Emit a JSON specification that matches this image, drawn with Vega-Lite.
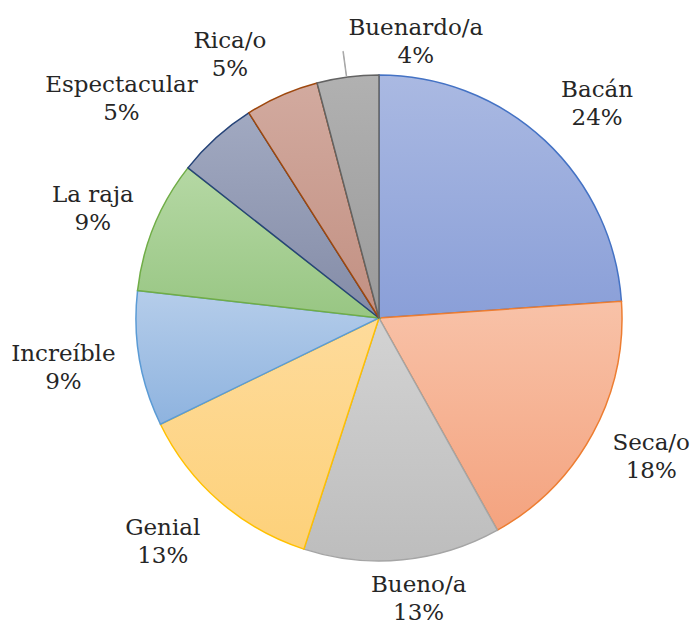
{
  "$schema": "https://vega.github.io/schema/vega-lite/v6.json",
  "width": 486,
  "height": 486,
  "autosize": "none",
  "padding": {"left": 136, "top": 75, "right": 71, "bottom": 60},
  "background": "white",
  "config": {"view": {"stroke": null}},
  "data": {
    "values": [
      {"i": 1, "name": "Bacán", "v": 23.9, "pct": "24%"},
      {"i": 2, "name": "Seca/o", "v": 18.0, "pct": "18%"},
      {"i": 3, "name": "Bueno/a", "v": 13.1, "pct": "13%"},
      {"i": 4, "name": "Genial", "v": 12.8, "pct": "13%"},
      {"i": 5, "name": "Increíble", "v": 9.0, "pct": "9%"},
      {"i": 6, "name": "La raja", "v": 8.8, "pct": "9%"},
      {"i": 7, "name": "Espectacular", "v": 5.4, "pct": "5%"},
      {"i": 8, "name": "Rica/o", "v": 4.9, "pct": "5%"},
      {"i": 9, "name": "Buenardo/a", "v": 4.1, "pct": "4%"}
    ]
  },
  "transform": [
    {"calculate": "datum.name + '\\n' + datum.pct", "as": "lab"},
    {"joinaggregate": [{"op": "sum", "field": "v", "as": "tot"}]},
    {"window": [{"op": "sum", "field": "v", "as": "cum"}], "sort": [{"field": "i"}], "frame": [null, 0]},
    {"calculate": "2*PI*(datum.cum - datum.v)/datum.tot", "as": "t0"},
    {"calculate": "2*PI*datum.cum/datum.tot", "as": "t1"}
  ],
  "encoding": {
    "theta": {"field": "v", "type": "quantitative", "stack": true},
    "order": {"field": "i", "type": "quantitative"}
  },
  "layer": [
    {"transform": [{"filter": "datum.name === 'Bacán'"}],
     "mark": {"type": "arc", "outerRadius": 243, "strokeWidth": 1.5, "stroke": "#4472c4",
       "fill": {"gradient": "linear", "x1": 0, "y1": 0, "x2": 0, "y2": 1, "stops": [{"offset": 0, "color": "#aab9e2"}, {"offset": 1, "color": "#8a9fd8"}]}},
     "encoding": {"theta": {"field": "t0", "type": "quantitative", "scale": null, "stack": null}, "theta2": {"field": "t1"}}},
    {"transform": [{"filter": "datum.name === 'Seca/o'"}],
     "mark": {"type": "arc", "outerRadius": 243, "strokeWidth": 1.5, "stroke": "#ed7d31",
       "fill": {"gradient": "linear", "x1": 0, "y1": 0, "x2": 0, "y2": 1, "stops": [{"offset": 0, "color": "#f8c2a8"}, {"offset": 1, "color": "#f4a37f"}]}},
     "encoding": {"theta": {"field": "t0", "type": "quantitative", "scale": null, "stack": null}, "theta2": {"field": "t1"}}},
    {"transform": [{"filter": "datum.name === 'Bueno/a'"}],
     "mark": {"type": "arc", "outerRadius": 243, "strokeWidth": 1.5, "stroke": "#a5a5a5",
       "fill": {"gradient": "linear", "x1": 0, "y1": 0, "x2": 0, "y2": 1, "stops": [{"offset": 0, "color": "#d3d3d3"}, {"offset": 1, "color": "#bdbdbd"}]}},
     "encoding": {"theta": {"field": "t0", "type": "quantitative", "scale": null, "stack": null}, "theta2": {"field": "t1"}}},
    {"transform": [{"filter": "datum.name === 'Genial'"}],
     "mark": {"type": "arc", "outerRadius": 243, "strokeWidth": 1.5, "stroke": "#ffc000",
       "fill": {"gradient": "linear", "x1": 0, "y1": 0, "x2": 0, "y2": 1, "stops": [{"offset": 0, "color": "#fedb9b"}, {"offset": 1, "color": "#fdd17a"}]}},
     "encoding": {"theta": {"field": "t0", "type": "quantitative", "scale": null, "stack": null}, "theta2": {"field": "t1"}}},
    {"transform": [{"filter": "datum.name === 'Increíble'"}],
     "mark": {"type": "arc", "outerRadius": 243, "strokeWidth": 1.5, "stroke": "#5b9bd5",
       "fill": {"gradient": "linear", "x1": 0, "y1": 0, "x2": 0, "y2": 1, "stops": [{"offset": 0, "color": "#b5cdea"}, {"offset": 1, "color": "#8eb3df"}]}},
     "encoding": {"theta": {"field": "t0", "type": "quantitative", "scale": null, "stack": null}, "theta2": {"field": "t1"}}},
    {"transform": [{"filter": "datum.name === 'La raja'"}],
     "mark": {"type": "arc", "outerRadius": 243, "strokeWidth": 1.5, "stroke": "#70ad47",
       "fill": {"gradient": "linear", "x1": 0, "y1": 0, "x2": 0, "y2": 1, "stops": [{"offset": 0, "color": "#b5d8a4"}, {"offset": 1, "color": "#98c683"}]}},
     "encoding": {"theta": {"field": "t0", "type": "quantitative", "scale": null, "stack": null}, "theta2": {"field": "t1"}}},
    {"transform": [{"filter": "datum.name === 'Espectacular'"}],
     "mark": {"type": "arc", "outerRadius": 243, "strokeWidth": 1.5, "stroke": "#264478",
       "fill": {"gradient": "linear", "x1": 0, "y1": 0, "x2": 0, "y2": 1, "stops": [{"offset": 0, "color": "#a1a9c1"}, {"offset": 1, "color": "#848ca7"}]}},
     "encoding": {"theta": {"field": "t0", "type": "quantitative", "scale": null, "stack": null}, "theta2": {"field": "t1"}}},
    {"transform": [{"filter": "datum.name === 'Rica/o'"}],
     "mark": {"type": "arc", "outerRadius": 243, "strokeWidth": 1.5, "stroke": "#9e480e",
       "fill": {"gradient": "linear", "x1": 0, "y1": 0, "x2": 0, "y2": 1, "stops": [{"offset": 0, "color": "#d2aa9f"}, {"offset": 1, "color": "#c29082"}]}},
     "encoding": {"theta": {"field": "t0", "type": "quantitative", "scale": null, "stack": null}, "theta2": {"field": "t1"}}},
    {"transform": [{"filter": "datum.name === 'Buenardo/a'"}],
     "mark": {"type": "arc", "outerRadius": 243, "strokeWidth": 1.5, "stroke": "#636363",
       "fill": {"gradient": "linear", "x1": 0, "y1": 0, "x2": 0, "y2": 1, "stops": [{"offset": 0, "color": "#b1b1b1"}, {"offset": 1, "color": "#9a9a9a"}]}},
     "encoding": {"theta": {"field": "t0", "type": "quantitative", "scale": null, "stack": null}, "theta2": {"field": "t1"}}},
    {
      "transform": [
        {"filter": "datum.name === 'Buenardo/a'"},
        {"calculate": "(datum.t0 + datum.t1)/2 - 0.006", "as": "l1"},
        {"calculate": "datum.l1 + 0.002", "as": "l2"}
      ],
      "mark": {"type": "arc", "outerRadius": 269, "innerRadius": 244, "fill": null, "stroke": "#a6a6a6", "strokeWidth": 1},
      "encoding": {
        "theta": {"field": "l1", "type": "quantitative", "scale": null, "stack": null},
        "theta2": {"field": "l2"}
      }
    },
    {"mark": {"type": "text", "radius": 305, "dx": 10, "dy": -5, "font": "DejaVu Serif", "fontSize": 23, "lineHeight": 28, "lineBreak": "\n", "color": "#262626", "align": "center", "baseline": "middle"},
     "encoding": {"text": {"condition": {"test": "datum.name === 'Bacán'", "field": "lab"}, "value": ""}}},
    {"mark": {"type": "text", "radius": 305, "dx": 4, "dy": -20, "font": "DejaVu Serif", "fontSize": 23, "lineHeight": 28, "lineBreak": "\n", "color": "#262626", "align": "center", "baseline": "middle"},
     "encoding": {"text": {"condition": {"test": "datum.name === 'Seca/o'", "field": "lab"}, "value": ""}}},
    {"mark": {"type": "text", "radius": 305, "dx": 10, "dy": -37, "font": "DejaVu Serif", "fontSize": 23, "lineHeight": 28, "lineBreak": "\n", "color": "#262626", "align": "center", "baseline": "middle"},
     "encoding": {"text": {"condition": {"test": "datum.name === 'Bueno/a'", "field": "lab"}, "value": ""}}},
    {"mark": {"type": "text", "radius": 305, "dx": -16, "dy": -20, "font": "DejaVu Serif", "fontSize": 23, "lineHeight": 28, "lineBreak": "\n", "color": "#262626", "align": "center", "baseline": "middle"},
     "encoding": {"text": {"condition": {"test": "datum.name === 'Genial'", "field": "lab"}, "value": ""}}},
    {"mark": {"type": "text", "radius": 305, "dx": -15, "dy": -15, "font": "DejaVu Serif", "fontSize": 23, "lineHeight": 28, "lineBreak": "\n", "color": "#262626", "align": "center", "baseline": "middle"},
     "encoding": {"text": {"condition": {"test": "datum.name === 'Increíble'", "field": "lab"}, "value": ""}}},
    {"mark": {"type": "text", "radius": 305, "dx": -4, "dy": -7, "font": "DejaVu Serif", "fontSize": 23, "lineHeight": 28, "lineBreak": "\n", "color": "#262626", "align": "center", "baseline": "middle"},
     "encoding": {"text": {"condition": {"test": "datum.name === 'La raja'", "field": "lab"}, "value": ""}}},
    {"mark": {"type": "text", "radius": 305, "dx": -53, "dy": -7, "font": "DejaVu Serif", "fontSize": 23, "lineHeight": 28, "lineBreak": "\n", "color": "#262626", "align": "center", "baseline": "middle"},
     "encoding": {"text": {"condition": {"test": "datum.name === 'Espectacular'", "field": "lab"}, "value": ""}}},
    {"mark": {"type": "text", "radius": 305, "dx": -27, "dy": 3, "font": "DejaVu Serif", "fontSize": 23, "lineHeight": 28, "lineBreak": "\n", "color": "#262626", "align": "center", "baseline": "middle"},
     "encoding": {"text": {"condition": {"test": "datum.name === 'Rica/o'", "field": "lab"}, "value": ""}}},
    {"mark": {"type": "text", "radius": 305, "dx": 76, "dy": 12, "font": "DejaVu Serif", "fontSize": 23, "lineHeight": 28, "lineBreak": "\n", "color": "#262626", "align": "center", "baseline": "middle"},
     "encoding": {"text": {"condition": {"test": "datum.name === 'Buenardo/a'", "field": "lab"}, "value": ""}}}
  ]
}
